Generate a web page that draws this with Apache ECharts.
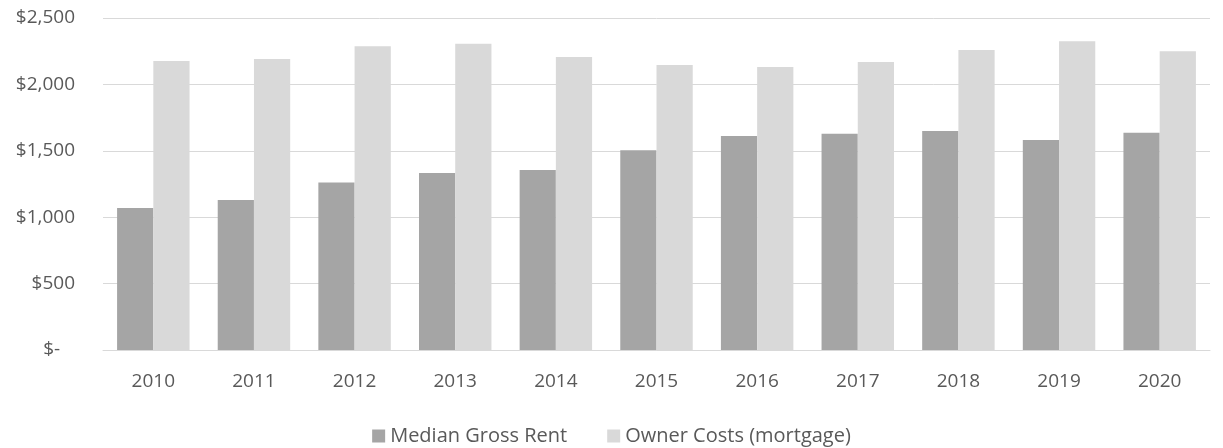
<!DOCTYPE html>
<html>
<head>
<meta charset="utf-8">
<script src="https://cdn.jsdelivr.net/npm/echarts@6/dist/echarts.min.js"></script>
<style>
  html, body { margin: 0; padding: 0; background: #fff; }
  #chart { width: 1223px; height: 448px; }
</style>
</head>
<body>
<div id="chart"></div>
<script>
  // data
  var years = ['2010', '2011', '2012', '2013', '2014', '2015', '2016', '2017', '2018', '2019', '2020'];
  var medianGrossRent = [1070, 1130, 1262, 1333, 1355, 1504, 1611, 1629, 1649, 1581, 1636];
  var ownerCosts = [2176, 2191, 2287, 2307, 2206, 2146, 2131, 2169, 2259, 2324, 2249];
  var seriesNames = ['Median Gross Rent', 'Owner Costs (mortgage)'];

  var chart = echarts.init(document.getElementById('chart'));
  var font = '"Open Sans", Lato, sans-serif';

  var option = {
    animation: false,
    textStyle: { fontFamily: font },
    grid: { left: 103, right: 13, top: 18, bottom: 98 },
    legend: {
      data: seriesNames,
      top: 421,
      left: 'center',
      itemWidth: 13,
      itemHeight: 13,
      itemGap: 40,
      icon: 'rect',
      textStyle: { color: '#595959', fontSize: 20, fontFamily: font }
    },
    xAxis: {
      type: 'category',
      data: years,
      axisLine: { show: true, lineStyle: { color: '#d9d9d9', width: 1 } },
      axisTick: { show: false },
      axisLabel: { color: '#595959', fontSize: 19, margin: 22, fontFamily: font }
    },
    yAxis: {
      type: 'value',
      min: 0,
      max: 2500,
      interval: 500,
      axisLine: { show: false },
      axisTick: { show: false },
      splitLine: { lineStyle: { color: '#d9d9d9', width: 1 } },
      axisLabel: {
        color: '#595959',
        fontSize: 19,
        margin: 28,
        fontFamily: font,
        formatter: function (v) {
          if (v === 0) return '$-   ';
          return '$' + v.toLocaleString('en-US');
        }
      }
    },
    series: [
      {
        name: seriesNames[0],
        type: 'bar',
        data: medianGrossRent,
        barGap: '0%',
        barCategoryGap: '28%',
        itemStyle: { color: '#a5a5a5' }
      },
      {
        name: seriesNames[1],
        type: 'bar',
        data: ownerCosts,
        barGap: '0%',
        barCategoryGap: '28%',
        itemStyle: { color: '#d9d9d9' }
      }
    ]
  };

  chart.setOption(option);
  window.addEventListener('resize', function () {
    chart.resize();
  });
</script>
</body>
</html>
